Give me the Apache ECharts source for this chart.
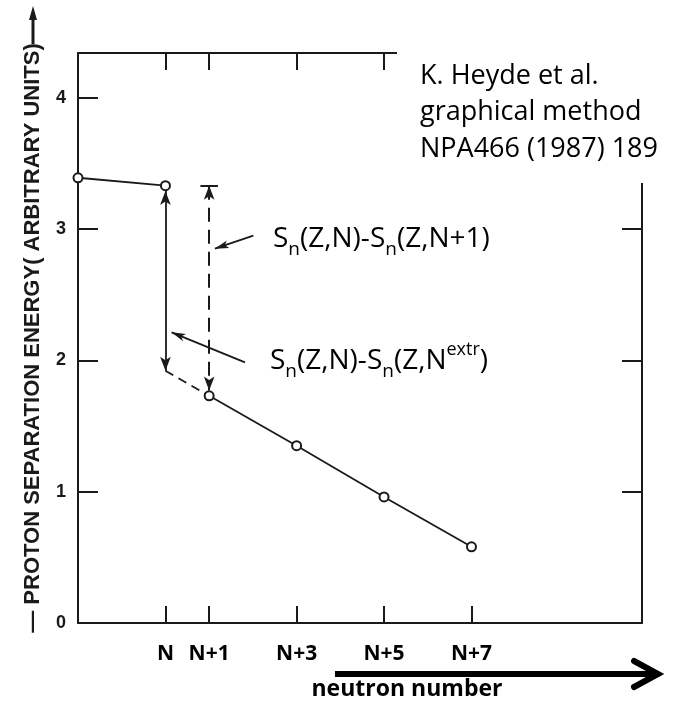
<!DOCTYPE html>
<html><head><meta charset="utf-8">
<script src="https://cdn.jsdelivr.net/npm/echarts@6/dist/echarts.min.js"></script>
<style>html,body{margin:0;padding:0;background:#fff}#c{width:674px;height:704px}</style>
</head><body><div id="c"></div>
<script>
// ---- data (x = neutron number relative to N) ----
const xTickValues = [0, 1, 3, 5, 7];
const xTickLabels = ['N', 'N+1', 'N+3', 'N+5', 'N+7'];
const yLabelValues = [0, 1, 2, 3, 4];
const yTickValues = [1, 2, 3, 4];
const upperX = [-2, 0];
const upperY = [3.39, 3.33];
const lowerX = [1, 3, 5, 7];
const lowerY = [1.73, 1.35, 0.96, 0.58];
const extrapX = [0, 1];
const extrapY = [1.92, 1.73];
// vertical gap markers [x, yTop, yBottom]
const gapExtr = [0, 3.29, 1.92];
const gapNext = [1, 3.33, 1.77];
const capHalfWidth = 0.2;
// pointer lines [xFrom, yFrom, xTo, yTo]
const pointerNext = [2.01, 2.95, 1.13, 2.85];
const pointerExtr = [1.82, 1.985, 0.14, 2.213];

const ink = '#1a1a1a';
const toPairs = (xs, ys) => xs.map((x, i) => [x, ys[i]]);

const chart = echarts.init(document.getElementById('c'));
const axisLineStyle = { color: ink, width: 2 };
const tickStyle = { color: ink, width: 2 };

const markLines = [
  [ { coord: [gapExtr[0], gapExtr[1]], symbol: 'arrow', symbolSize: [8, 14], lineStyle: { color: ink, width: 1.8, type: 'solid' } },
    { coord: [gapExtr[0], gapExtr[2]], symbol: 'arrow', symbolSize: [8, 14] } ],
  [ { coord: [gapNext[0], gapNext[1]], symbol: 'arrow', symbolSize: [8, 14], lineStyle: { color: ink, width: 2, type: [14, 8] } },
    { coord: [gapNext[0], gapNext[2]], symbol: 'arrow', symbolSize: [8, 14] } ],
  [ { coord: [gapNext[0] - capHalfWidth, gapNext[1]], symbol: 'none', lineStyle: { color: ink, width: 2, type: 'solid' } },
    { coord: [gapNext[0] + capHalfWidth, gapNext[1]], symbol: 'none' } ],
  [ { coord: [pointerNext[0], pointerNext[1]], symbol: 'none', lineStyle: { color: ink, width: 1.8, type: 'solid' } },
    { coord: [pointerNext[2], pointerNext[3]], symbol: 'arrow', symbolSize: [6, 14] } ],
  [ { coord: [pointerExtr[0], pointerExtr[1]], symbol: 'none', lineStyle: { color: ink, width: 1.8, type: 'solid' } },
    { coord: [pointerExtr[2], pointerExtr[3]], symbol: 'arrow', symbolSize: [6, 14] } ]
];

const richStyle = {
  m: { fontFamily: 'Open Sans', fontSize: 28, lineHeight: 40, verticalAlign: 'middle', color: '#000' },
  s: { fontFamily: 'Open Sans', fontSize: 19, lineHeight: 22, verticalAlign: 'bottom', color: '#000' },
  p: { fontFamily: 'Open Sans', fontSize: 18, lineHeight: 26, verticalAlign: 'top', color: '#000' }
};

chart.setOption({
  animation: false,
  backgroundColor: '#fff',
  grid: { left: 78, right: 32, top: 53, bottom: 81 },
  xAxis: [
    { type: 'value', position: 'bottom', min: -2, max: 10.9,
      axisLine: { show: true, onZero: false, lineStyle: axisLineStyle },
      axisTick: { show: true, inside: true, length: 17, customValues: xTickValues, lineStyle: tickStyle },
      axisLabel: { show: true, customValues: xTickValues, margin: 21,
        formatter: v => xTickLabels[xTickValues.indexOf(v)],
        fontFamily: 'Open Sans', fontWeight: 'bold', fontSize: 21, color: '#000' },
      splitLine: { show: false } },
    { type: 'value', position: 'top', min: -2, max: 10.9,
      axisLine: { show: true, onZero: false, lineStyle: axisLineStyle },
      axisTick: { show: true, inside: true, length: 17, customValues: xTickValues, lineStyle: tickStyle },
      axisLabel: { show: false }, splitLine: { show: false } }
  ],
  yAxis: [
    { type: 'value', position: 'left', min: 0, max: 4.34,
      name: '— PROTON SEPARATION ENERGY( ARBITRARY UNITS)',
      nameLocation: 'middle', nameRotate: 90, nameGap: 34,
      nameTextStyle: { fontFamily: 'Liberation Sans', fontWeight: 'bold', fontSize: 22, color: ink },
      axisLine: { show: true, onZero: false, lineStyle: axisLineStyle },
      axisTick: { show: true, inside: true, length: 20, customValues: yTickValues, lineStyle: tickStyle },
      axisLabel: { show: true, customValues: yLabelValues, margin: 12,
        fontFamily: 'Liberation Sans', fontWeight: 'bold', fontSize: 18, color: ink },
      splitLine: { show: false } },
    { type: 'value', position: 'right', min: 0, max: 4.34,
      axisLine: { show: true, onZero: false, lineStyle: axisLineStyle },
      axisTick: { show: true, inside: true, length: 20, customValues: yTickValues, lineStyle: tickStyle },
      axisLabel: { show: false }, splitLine: { show: false } }
  ],
  series: [
    { name: 'upper', type: 'line', data: toPairs(upperX, upperY), symbol: 'emptyCircle', symbolSize: 9,
      itemStyle: { color: ink, borderColor: ink, borderWidth: 1.8 }, clip: false,
      lineStyle: { color: ink, width: 1.8 }, z: 5 },
    { name: 'lower', type: 'line', data: toPairs(lowerX, lowerY), symbol: 'emptyCircle', symbolSize: 9,
      itemStyle: { color: ink, borderColor: ink, borderWidth: 1.8 },
      lineStyle: { color: ink, width: 1.8 }, z: 5 },
    { name: 'extrapolation', type: 'line', data: toPairs(extrapX, extrapY), symbol: 'none',
      lineStyle: { color: ink, width: 1.8, type: [9, 6] }, z: 4,
      markLine: { silent: true, animation: false, label: { show: false }, data: markLines } }
  ],
  graphic: [
    { type: 'rect', shape: { x: 397, y: 0, width: 277, height: 183 }, style: { fill: '#fff' }, z: 50 },
    { type: 'text', x: 420, y: 58, z: 60,
      style: { text: 'K. Heyde et al.\ngraphical method\nNPA466 (1987) 189', fontFamily: 'Open Sans',
        fontSize: 27, lineHeight: 36.5, fill: '#000', align: 'left', verticalAlign: 'top' } },
    { type: 'text', x: 273, y: 219, z: 60,
      style: { text: '{m|S}{s|n}{m|(Z,N)-S}{s|n}{m|(Z,N+1)}', rich: richStyle, align: 'left', verticalAlign: 'top' } },
    { type: 'text', x: 270, y: 341, z: 60,
      style: { text: '{m|S}{s|n}{m|(Z,N)-S}{s|n}{m|(Z,N}{p|extr}{m|)}', rich: richStyle, align: 'left', verticalAlign: 'top' } },
    { type: 'line', shape: { x1: 335, y1: 674, x2: 655, y2: 674 }, style: { stroke: '#000', lineWidth: 6 }, z: 60 },
    { type: 'polyline', shape: { points: [[634, 661], [658, 674], [634, 687]] },
      style: { stroke: '#000', lineWidth: 6, fill: null, lineJoin: 'miter', lineCap: 'round' }, z: 60 },
    { type: 'text', x: 407, y: 689, z: 60,
      style: { text: 'neutron number', fontFamily: 'Open Sans', fontWeight: 'bold', fontSize: 23,
        fill: '#000', align: 'center', verticalAlign: 'middle' } },
    { type: 'line', shape: { x1: 33, y1: 44, x2: 33, y2: 16 }, style: { stroke: ink, lineWidth: 3 }, z: 60 },
    { type: 'polygon', shape: { points: [[33, 6], [29, 20], [37, 20]] }, style: { fill: ink }, z: 60 }
  ]
});
</script></body></html>
